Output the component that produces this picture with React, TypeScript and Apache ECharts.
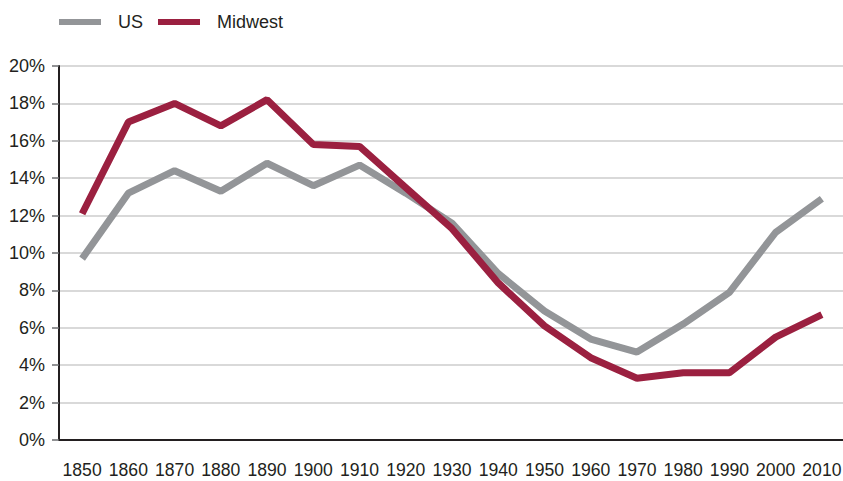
import React, { useEffect, useRef } from "react";
import * as echarts from "echarts";

const years = ["1850","1860","1870","1880","1890","1900","1910","1920","1930","1940","1950","1960","1970","1980","1990","2000","2010"];
const usValues = [9.7, 13.2, 14.4, 13.3, 14.8, 13.6, 14.7, 13.2, 11.6, 8.9, 6.9, 5.4, 4.7, 6.2, 7.9, 11.1, 12.9];
const midwestValues = [12.1, 17.0, 18.0, 16.8, 18.2, 15.8, 15.7, 13.5, 11.3, 8.4, 6.1, 4.4, 3.3, 3.6, 3.6, 5.5, 6.7];
const seriesNames = ["US", "Midwest"];
const colors = ["#939598", "#9b2040"];

const FONT = "'Liberation Sans', Arial, Helvetica, sans-serif";

export default function App() {
  const ref = useRef<HTMLDivElement>(null);
  useEffect(() => {
    document.body.style.margin = "0";
    const chart = echarts.init(ref.current!, null, { renderer: "svg" });
    chart.setOption({
      animation: false,
      backgroundColor: "#ffffff",
      legend: {
        left: 54,
        top: 8,
        itemWidth: 42,
        itemHeight: 6,
        itemGap: 15,
        icon: "rect",
        textStyle: { fontFamily: FONT, fontSize: 18, color: "#231f20", padding: [0, 0, 0, 12] },
        data: seriesNames,
      },
      grid: { left: 59, right: 0, top: 66, bottom: 41, containLabel: false },
      xAxis: {
        type: "category",
        data: years,
        boundaryGap: true,
        axisLine: { lineStyle: { color: "#231f20", width: 2 } },
        axisTick: { alignWithLabel: true, length: 9, lineStyle: { color: "#6d6e71", width: 1.5 } },
        axisLabel: { fontFamily: FONT, fontSize: 17.6, color: "#231f20", margin: 21, interval: 0 },
        splitLine: { show: false },
      },
      yAxis: {
        type: "value",
        min: 0,
        max: 20,
        interval: 2,
        axisLine: { show: true, lineStyle: { color: "#231f20", width: 2 } },
        axisTick: { show: true, length: 7, lineStyle: { color: "#6d6e71", width: 1.5 } },
        axisLabel: { fontFamily: FONT, fontSize: 18, color: "#231f20", margin: 14, formatter: "{value}%" },
        splitLine: { show: true, lineStyle: { color: "#cccccc", width: 1.5 } },
      },
      series: [
        {
          name: seriesNames[0],
          type: "line",
          data: usValues,
          symbol: "none",
          lineStyle: { color: colors[0], width: 7 },
          itemStyle: { color: colors[0] },
        },
        {
          name: seriesNames[1],
          type: "line",
          data: midwestValues,
          symbol: "none",
          lineStyle: { color: colors[1], width: 7 },
          itemStyle: { color: colors[1] },
        },
      ],
    });
    return () => chart.dispose();
  }, []);
  return (
    <div style={{ width: 843, height: 481, overflow: "hidden", position: "relative" }}>
      <div ref={ref} style={{ width: 845, height: 481 }} />
    </div>
  );
}
